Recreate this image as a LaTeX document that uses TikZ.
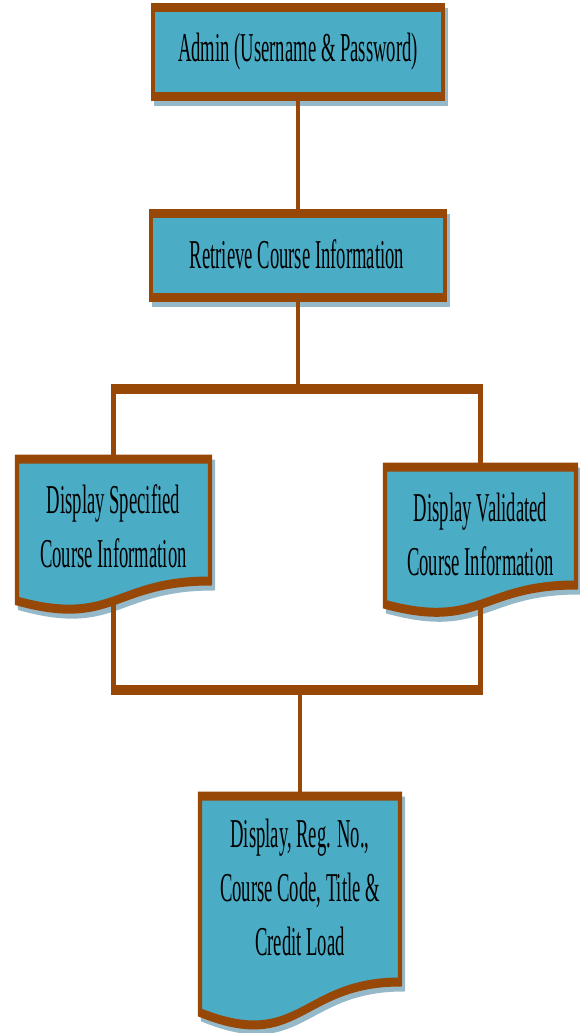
\documentclass[tikz,border=0pt]{standalone}
\usepackage{fontspec}
\setmainfont{Liberation Serif}
\usetikzlibrary{fit}
\definecolor{panelfill}{HTML}{4BACC6}
\definecolor{panelline}{HTML}{974806}
\definecolor{panelshadow}{HTML}{96B9CA}
\begin{document}
\begin{tikzpicture}[x=1pt,y=-1pt]
\useasboundingbox (0,0) rectangle (579,1033);
% everything is drawn on a horizontally condensed canvas
\begin{scope}[transform canvas={xscale=0.455}, x=2.1978pt, y=-1pt,
  boxshadow/.style={fill=panelshadow, draw=panelshadow, line width=9pt, shift={(3,5)}},
  panelbox/.style={fill=panelfill, draw=panelline, line width=9pt, line join=miter, inner sep=0pt},
  docarea/.style={inner sep=0pt, outer sep=0pt},
  boxtext/.style={inner sep=0pt, align=center, text=black, font=\fontsize{41}{54}\selectfont},
  linkline/.style={draw=panelline, line width=10pt}]

% login box
\path[boxshadow] (153,8) rectangle (443,96);
\node[panelbox, fit={(153,8) (443,96)}] (admin) {};
\node[boxtext] (admin-text) at (298,52) {Admin (Username \& Password)};

% retrieval box
\path[boxshadow] (151,213.5) rectangle (445,297);
\node[panelbox, fit={(151,213.5) (445,297)}] (retrieve) {};
\node[boxtext] (retrieve-text) at (297,254) {Retrieve Course Information};

% document: specified information
\path[boxshadow] (17,459) -- (210,459) -- (210,581) .. controls (113.5,581) and (113.5,627.5) .. (17,601) -- cycle;
\path[panelbox] (17,459) -- (210,459) -- (210,581) .. controls (113.5,581) and (113.5,627.5) .. (17,601) -- cycle;
\node[docarea, fit={(17,459) (210,601)}] (spec) {};
\node[boxtext] (spec-text) at (113.5,526) {Display Specified\\Course Information};

% document: validated information
\path[boxshadow] (385,467) -- (576,467) -- (576,585) .. controls (480.5,585) and (480.5,630) .. (385,604.4) -- cycle;
\path[panelbox] (385,467) -- (576,467) -- (576,585) .. controls (480.5,585) and (480.5,630) .. (385,604.4) -- cycle;
\node[docarea, fit={(385,467) (576,604.4)}] (valid) {};
\node[boxtext] (valid-text) at (480.5,534) {Display Validated\\Course Information};

% document: final report
\path[boxshadow] (200,796) -- (400,796) -- (400,982) .. controls (300,982) and (300,1052.8) .. (200,1012.6) -- cycle;
\path[panelbox] (200,796) -- (400,796) -- (400,982) .. controls (300,982) and (300,1052.8) .. (200,1012.6) -- cycle;
\node[docarea, fit={(200,796) (400,1012.6)}] (report) {};
\node[boxtext] (report-text) at (300,887) {Display, Reg. No.,\\Course Code, Title \&\\Credit Load};

% connectors
\coordinate (forkL) at (113.5,389);
\coordinate (forkR) at (480.5,389);
\coordinate (mergeL) at (113.5,690);
\coordinate (mergeR) at (480.5,690);

\draw[linkline] (admin.south) -- (retrieve.north);
\draw[linkline] (retrieve.south) -- (retrieve.south |- forkL);
\draw[linkline] (spec.north) -- (forkL) -- (forkR) -- (valid.north);
\draw[linkline] (spec.south) -- (mergeL) -- (mergeR) -- (valid.south);
\draw[linkline] (report.north |- mergeL) -- (report.north);
\end{scope}
\end{tikzpicture}
\end{document}
